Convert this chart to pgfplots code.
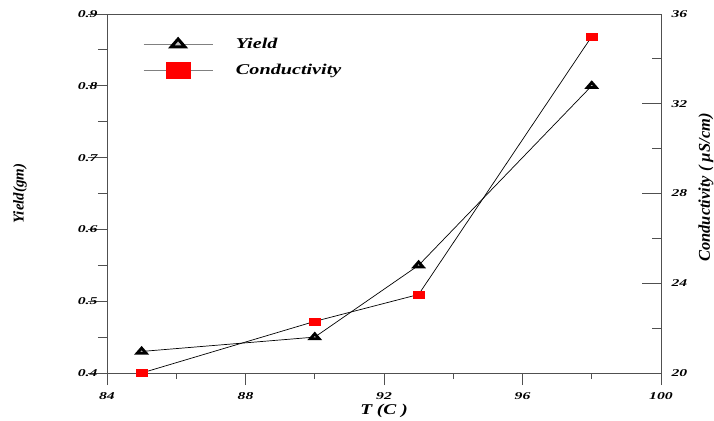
\documentclass[border=0pt]{standalone}
\usepackage{fontspec}
\setmainfont{Liberation Serif}
\usepackage{pgfplots}
\pgfplotsset{compat=1.18}

\definecolor{axisgray}{RGB}{80,80,80}

\pgfplotsset{
  base/.style={
    scale only axis, width=554bp, height=359bp,
    xmin=84, xmax=100, clip=false,
    axis line style={axisgray, line width=0.9bp},
    every tick/.style={axisgray, line width=0.9bp},
    tick label style={font=\fontsize{10.5}{12}\selectfont\bfseries\itshape},
  },
}

\begin{document}
\begin{tikzpicture}

% left axis: yield, frame and legend
\begin{axis}[base,
  ymin=0.4, ymax=0.9,
  ytick={0.4,0.5,0.6,0.7,0.8,0.9},
  minor ytick={0.45,0.55,0.65,0.75,0.85},
  xtick=\empty,
  ytick pos=left, tick align=outside,
  major tick length=19bp, minor tick length=9bp,
  yticklabel={\scalebox{1.5}[1]{\pgfmathprintnumber[assume math mode=true,fixed,fixed zerofill,precision=1]{\tick}}},
  yticklabel style={anchor=east, xshift=13bp},
  ylabel={Yield(gm)},
  ylabel style={at={(axis description cs:0,0.5)}, anchor=center, yshift=87bp,
    font=\fontsize{15}{17}\selectfont\bfseries\itshape},
  legend image code/.code={\draw[mark repeat=2,mark phase=2,#1] plot coordinates {(0bp,0bp) (34.5bp,0bp) (69bp,0bp)};},
  legend style={draw=none, fill=none, inner sep=0pt,
    at={(axis description cs:0,1)}, anchor=north west, xshift=36bp, yshift=-21bp,
    row sep=8bp,
    nodes={inner sep=2bp, text height=11bp, text depth=3bp,
      font=\fontsize{15}{18}\selectfont\bfseries\itshape},
    /tikz/every odd column/.append style={column sep=21bp}},
  legend cell align=left,
]
\addplot[black, line width=0.7bp, mark=triangle*, mark size=3.4bp,
  mark options={draw=black, fill=gray!50, line width=2.8bp, xscale=1.5}, forget plot]
  coordinates {(85,0.43) (90,0.45) (93,0.55) (98,0.80)};
\addlegendimage{gray, line width=0.8bp, mark=triangle*, mark size=5.2bp,
  mark options={draw=black, fill=gray!50, line width=3bp, xscale=1.5}}
\addlegendentry{\scalebox{1.35}[1]{Yield}}
\addlegendimage{gray, line width=0.8bp, mark=square*, mark size=8bp,
  mark options={draw=red, fill=red, xscale=1.5}}
\addlegendentry{\scalebox{1.35}[1]{Conductivity}}
\end{axis}

% bottom ticks: temperature
\begin{axis}[base,
  ymin=0, ymax=1, ytick=\empty,
  xtick={84,88,92,96,100},
  minor xtick={86,90,94,98},
  xtick pos=bottom, tick align=outside,
  major tick length=12bp, minor tick length=6bp,
  xticklabel={\scalebox{1.5}[1]{\pgfmathprintnumber[assume math mode=true]{\tick}}},
  xticklabel style={anchor=center, yshift=-11bp},
  xlabel={\scalebox{1.3}[1]{T (C )}},
  xlabel style={at={(axis description cs:0.5,0)}, anchor=center, yshift=-38bp,
    font=\fontsize{15}{17}\selectfont\bfseries\itshape},
]
\end{axis}

% right axis: conductivity
\begin{axis}[base,
  ymin=20, ymax=36, xtick=\empty,
  ytick={20,24,28,32,36},
  minor ytick={22,26,30,34},
  ytick pos=right, tick align=inside,
  major tick length=19bp, minor tick length=9bp,
  yticklabel={\scalebox{1.5}[1]{\pgfmathprintnumber[assume math mode=true]{\tick}}},
  yticklabel style={anchor=west, xshift=7bp},
  ylabel={Conductivity ( µS/cm)},
  ylabel near ticks, yticklabel pos=right,
  ylabel style={at={(axis description cs:1,0.5)}, anchor=center, xshift=6bp, yshift=-45bp,
    font=\fontsize{16.5}{18}\selectfont\bfseries\itshape},
]
\addplot[black, line width=0.7bp, mark=square*, mark size=3.5bp,
  mark options={draw=red, fill=red, xscale=1.55}]
  coordinates {(85,20) (90,22.3) (93,23.5) (98,35)};
\end{axis}

\pgfresetboundingbox
\path (current axis.south west) ++(-107bp,-48bp) rectangle ++(714bp,421bp);
\end{tikzpicture}
\end{document}
